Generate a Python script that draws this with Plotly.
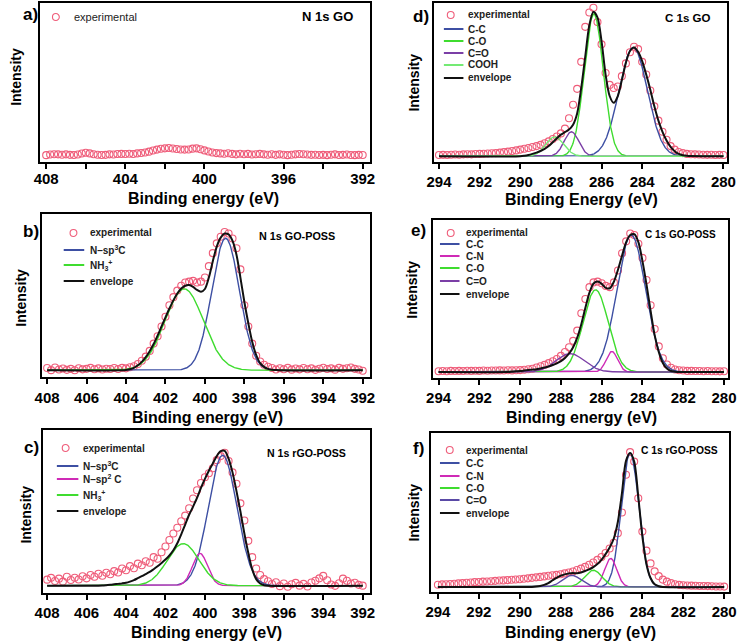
import numpy as np
import plotly.graph_objects as go

W, H = 749, 643

# energy grids of the measured spectra (0.2 eV steps)
be_n = np.round(np.linspace(408, 392, 81), 1)
be_c = np.round(np.linspace(294, 280, 71), 1)

# intensities are given in % of the frame height

# a) N 1s GO
a_exp = [4.3, 4.7, 4.9, 4.8, 4.6, 4.8, 4.5, 4.4, 4.7, 5.3,
         5.8, 5.4, 4.9, 4.6, 4.4, 4.5, 4.8, 4.7, 5.0, 5.1,
         5.0, 5.2, 5.0, 5.4, 5.7, 6.0, 6.5, 7.2, 7.8, 8.3,
         8.6, 8.8, 8.5, 8.2, 7.9, 7.8, 7.9, 8.4, 8.6, 8.0,
         7.3, 6.6, 6.0, 5.6, 5.4, 5.2, 5.5, 5.1, 4.8, 5.2,
         4.9, 5.1, 4.7, 4.9, 5.1, 4.8, 4.6, 4.9, 4.5, 4.8,
         4.6, 4.3, 4.6, 4.8, 5.0, 4.9, 4.7, 4.5, 4.6, 4.4,
         4.5, 4.3, 4.6, 4.8, 4.4, 4.5, 4.7, 4.4, 4.3, 4.5, 4.4]

# b) N 1s GO-POSS
b_exp = [5.5, 4.2, 5.8, 4.6, 5.2, 4.4, 5.0, 4.1, 5.4, 4.7,
         5.0, 5.6, 4.8, 5.3, 4.6, 5.1, 4.9, 5.5, 4.9, 5.6,
         5.3, 6.0, 6.6, 8.0, 10.0, 12.5, 16.0, 20.5, 25.0, 31.0,
         37.0, 44.0, 49.0, 53.0, 56.0, 58.0, 58.5, 59.0, 58.0, 58.5,
         61.0, 68.0, 76.0, 82.0, 86.0, 89.0, 88.0, 85.0, 79.0, 66.0,
         44.0, 31.0, 20.5, 13.0, 9.5, 7.5, 6.3, 5.5, 4.6, 5.4,
         4.8, 5.6, 4.5, 5.2, 4.7, 5.5, 4.8, 5.3, 4.4, 5.1,
         5.7, 4.9, 5.3, 4.5, 5.6, 5.0, 5.4, 5.8, 5.0, 4.6, 3.8]
b_env_be = [408, 404.2] + list(np.round(np.linspace(404.0, 396.4, 39), 1)) + [396.2, 392]
b_env = [4.1, 4.1,
         4.3, 4.7, 5.6, 7.2, 9.3, 12.2, 15.8, 20.2, 25.4, 31.0,
         36.6, 42.0, 47.0, 51.2, 54.3, 56.0, 56.4, 55.3, 53.4, 52.3,
         54.0, 61.0, 71.0, 80.0, 85.5, 88.0, 87.5, 83.5, 75.0, 61.0,
         46.0, 33.0, 21.5, 13.5, 8.5, 6.2, 5.0, 4.5, 4.3,
         4.1, 4.1]
b_names = ["N\u2013sp<sup>3</sup>C", "NH<sub>3</sub><sup>+</sup>"]
b_center = [398.95, 401.05]
b_height = [81.0, 50.0]
b_fwhm = [1.65, 2.3]
b_base = 4.1

# c) N 1s rGO-POSS
c_exp = [8.2, 9.3, 7.4, 8.8, 7.0, 10.0, 8.0, 9.4, 8.3, 10.3,
         9.0, 11.0, 10.0, 11.8, 10.6, 12.4, 11.5, 13.4, 12.6, 15.0,
         14.0, 16.5, 15.2, 18.0, 17.0, 19.5, 18.6, 22.0, 21.0, 25.0,
         28.5, 32.5, 36.5, 40.0, 44.0, 47.5, 52.0, 58.0, 63.0, 67.5,
         71.0, 73.5, 76.5, 81.5, 84.0, 86.0, 81.0, 74.0, 67.0, 55.0,
         44.5, 32.0, 22.0, 15.0, 11.0, 8.5, 7.2, 5.5, 6.6, 4.2,
         5.8, 3.8, 5.4, 6.2, 4.5, 5.6, 4.0, 6.4, 7.5, 9.0,
         10.5, 7.8, 5.2, 4.4, 6.0, 8.8, 7.5, 5.8, 6.3, 5.0, 4.5]
c_env_be = [408, 405.4] + list(np.round(np.linspace(405.2, 396.8, 43), 1)) + [392]
c_env = [4.5, 4.5,
         4.6, 4.8, 5.0, 5.3, 5.6, 5.9, 6.3, 7.0, 7.9, 9.1,
         10.3, 11.6, 12.9, 14.6, 16.4, 18.4, 20.5, 23.0, 26.2, 30.5,
         36.0, 42.0, 48.0, 53.0, 58.3, 64.5, 70.0, 75.0, 79.5, 84.0,
         87.0, 87.2, 82.5, 74.0, 62.5, 50.0, 36.5, 24.5, 14.4, 8.5,
         5.8, 4.8, 4.5,
         4.5]
c_names = ["N\u2013sp<sup>3</sup>C", "N\u2013sp<sup>2</sup> C", "NH<sub>3</sub><sup>+</sup>"]
c_center = [399.1, 400.25, 401.1]
c_height = [80.0, 19.8, 25.8]
c_fwhm = [1.7, 0.9, 1.9]
c_base = 4.5

# d) C 1s GO
d_exp = [4.4, 4.5, 4.4, 4.6, 4.7, 4.6, 4.8, 4.9, 4.8, 5.0,
         5.1, 5.2, 5.3, 5.5, 5.6, 5.9, 6.2, 6.5, 6.9, 7.3,
         7.8, 8.3, 8.8, 9.4, 10.0, 10.8, 11.8, 13.0, 14.5, 16.0,
         18.0, 21.0, 27.5, 36.0, 46.0, 63.0, 85.0, 94.0, 97.0, 88.0,
         74.0, 56.0, 48.5, 46.5, 47.5, 54.0, 62.0, 69.0, 72.5, 71.0,
         63.0, 55.0, 45.0, 35.0, 26.0, 19.0, 14.0, 10.0, 7.8, 6.3,
         5.6, 5.1, 4.9, 4.8, 4.7, 4.6, 4.5, 4.6, 4.4, 4.5, 4.4]
d_env_be = [294] + list(np.round(np.linspace(290.0, 281.6, 43), 1)) + [280]
d_env = [3.6,
         3.6, 3.9, 4.4, 5.1, 5.9, 6.9, 8.2, 10.0, 12.4, 15.0,
         17.2, 18.8, 20.5, 23.5, 30.5, 46.5, 66.5, 86.0, 94.5, 91.0,
         76.0, 55.0, 41.5, 37.2, 41.5, 51.5, 62.5, 69.8, 72.0, 69.3,
         63.5, 55.0, 45.5, 35.0, 26.0, 19.0, 13.5, 9.5, 6.8, 5.1,
         4.3, 3.9, 3.7,
         3.6]
d_names = ["C-C", "C-O", "C=O", "COOH"]
d_center = [284.44, 286.38, 287.48, 288.3]
d_height = [68.4, 89.5, 15.4, 12.2]
d_fwhm = [1.65, 1.1, 0.85, 1.05]
d_base = 3.6

# e) C 1s GO-POSS
e_exp = [4.3, 4.4, 4.3, 4.5, 4.4, 4.5, 4.4, 4.6, 4.5, 4.6,
         4.5, 4.7, 4.6, 4.7, 4.7, 4.8, 4.7, 4.9, 4.8, 4.9,
         5.0, 5.2, 5.5, 5.9, 6.6, 7.4, 8.3, 9.4, 10.6, 12.0,
         14.0, 16.5, 19.5, 23.5, 30.0, 41.0, 50.0, 57.5, 60.5, 61.0,
         60.0, 58.3, 57.5, 60.5, 68.0, 79.0, 86.5, 91.5, 90.5, 85.0,
         76.0, 62.0, 46.0, 31.0, 20.0, 12.5, 8.5, 6.5, 5.4, 4.9,
         4.7, 4.5, 4.5, 4.4, 4.4, 4.3, 4.4, 4.3, 4.3, 4.2, 4.3]
e_env_be = [294] + list(np.round(np.linspace(290.6, 282.2, 43), 1)) + [280]
e_env = [3.8,
         3.8, 4.0, 4.2, 4.4, 4.7, 5.0, 5.3, 5.6, 6.0, 6.6,
         7.3, 8.2, 9.3, 10.7, 12.7, 15.5, 19.5, 25.5, 34.0, 44.5,
         54.0, 59.8, 61.0, 59.6, 57.0, 56.8, 61.0, 68.5, 77.5, 86.0,
         90.5, 91.0, 86.0, 74.0, 59.0, 42.5, 27.0, 16.5, 9.5, 6.0,
         4.4, 4.0, 3.8,
         3.8]
e_names = ["C-C", "C-N", "C-O", "C=O"]
e_center = [284.55, 285.5, 286.3, 287.55]
e_height = [86.7, 13.0, 52.0, 11.6]
e_fwhm = [1.65, 0.65, 1.45, 1.65]
e_base = 3.8

# f) C 1s rGO-POSS
f_exp = [4.6, 4.8, 4.9, 5.0, 5.2, 5.4, 5.6, 5.8, 6.0, 6.2,
         6.3, 6.5, 6.6, 6.8, 7.0, 7.2, 7.3, 7.5, 7.7, 7.9,
         8.0, 8.3, 8.6, 8.9, 9.2, 9.5, 9.8, 10.2, 10.5, 10.8,
         11.2, 11.7, 12.3, 12.9, 13.8, 14.7, 15.8, 17.1, 18.6, 20.2,
         22.0, 24.5, 27.4, 31.0, 37.0, 50.0, 73.7, 88.0, 82.0, 59.0,
         38.0, 26.0, 18.0, 13.0, 10.0, 7.8, 6.5, 5.6, 4.9, 4.5,
         4.2, 4.1, 4.0, 3.9, 3.8, 3.8, 3.7, 3.6, 3.5, 3.5, 3.4]
f_env_be = [294] + list(np.round(np.linspace(289.4, 283.0, 33), 1)) + [280]
f_env = [3.2,
         3.2, 3.4, 3.8, 4.5, 5.6, 7.3, 8.9, 10.2, 11.1, 11.7,
         11.9, 11.8, 12.3, 13.2, 14.2, 15.6, 17.6, 20.2, 23.8, 28.0,
         33.5, 44.0, 62.0, 82.5, 87.4, 82.0, 60.0, 35.0, 17.5, 8.8,
         4.8, 3.6, 3.2,
         3.2]
f_names = ["C-C", "C-N", "C-O", "C=O"]
f_center = [284.6, 285.55, 286.4, 287.45]
f_height = [84.2, 17.9, 10.5, 7.3]
f_fwhm = [1.0, 0.7, 1.0, 1.05]
f_base = 3.2

# ---------------------------------------------------------------- styling
EXP = "#ef5d7a"
BLUE = "#3d4fa3"
GREEN = "#3fdc2f"
MAGENTA = "#cf2ab6"
PURPLE = "#7b3fa6"
LGREEN = "#74ea74"
BLACK = "#111111"
FONT = "Liberation Sans"

panels = [
    dict(be=be_n, exp=a_exp, env=None, frame=(33, 3, 370, 162), xr=[408.3, 391.65], dtick=4, lab_off=-3,
         title="N 1s GO", title_pos=(355, 16), title_size=13, letter="a)", letter_pos=(23, 15),
         ylab_pos=(8, 77), xlab="Binding energy (eV)", xlab_pos=(200, 198),
         leg=dict(marker=(49, 17), line=None, text_x=65, rows=[17], size=11, bold=False)),
    dict(be=be_n, exp=b_exp, env=(b_env_be, b_env), frame=(35, 214, 370, 377), xr=[408.25, 391.65], dtick=2, lab_off=1,
         comps=(b_names, b_center, b_height, b_fwhm, b_base, [BLUE, GREEN]),
         title="N 1s GO-POSS", title_pos=(337, 236), title_size=10.8, letter="b)", letter_pos=(24, 231),
         ylab_pos=(13, 298), xlab="Binding energy (eV)", xlab_pos=(204, 417),
         leg=dict(marker=(67, 233), line=(57, 78), text_x=82, rows=[233, 250, 265, 281], size=10, bold=True)),
    dict(be=be_n, exp=c_exp, env=(c_env_be, c_env), frame=(36, 430, 370, 593), xr=[408.2, 391.65], dtick=2, lab_off=0,
         comps=(c_names, c_center, c_height, c_fwhm, c_base, [BLUE, MAGENTA, GREEN]),
         title="N 1s rGO-POSS", title_pos=(348, 453), title_size=10.6, letter="c)", letter_pos=(24, 447),
         ylab_pos=(18, 515), xlab="Binding energy (eV)", xlab_pos=(203, 632),
         leg=dict(marker=(59, 448), line=(50, 72), text_x=75, rows=[448, 466, 479, 495, 511], size=10, bold=True)),
    dict(be=be_c, exp=d_exp, env=(d_env_be, d_env), frame=(436, 3, 736, 162), xr=[294.24, 279.81], dtick=2, lab_off=0,
         comps=(d_names, d_center, d_height, d_fwhm, d_base, [BLUE, GREEN, PURPLE, LGREEN]),
         title="C 1s GO", title_pos=(720, 18), title_size=11.5, letter="d)", letter_pos=(423, 16),
         ylab_pos=(415, 83), xlab="Binding Energy (eV)", xlab_pos=(587, 199),
         leg=dict(marker=(453, 15), line=(446, 466), text_x=469, rows=[15, 29, 41, 53, 65, 78], size=10, bold=True)),
    dict(be=be_c, exp=e_exp, env=(e_env_be, e_env), frame=(435, 220, 737, 378), xr=[294.27, 279.79], dtick=2, lab_off=0,
         comps=(e_names, e_center, e_height, e_fwhm, e_base, [BLUE, MAGENTA, GREEN, PURPLE]),
         title="C 1s GO-POSS", title_pos=(727, 235), title_size=10, letter="e)", letter_pos=(420, 230),
         ylab_pos=(413, 290), xlab="Binding energy (eV)", xlab_pos=(587, 417),
         leg=dict(marker=(453, 233), line=(442, 462), text_x=467, rows=[233, 244, 256, 268, 281, 294], size=10, bold=True)),
    dict(be=be_c, exp=f_exp, env=(f_env_be, f_env), frame=(433, 433, 738, 592), xr=[294.33, 279.75], dtick=2, lab_off=0,
         comps=(f_names, f_center, f_height, f_fwhm, f_base, [BLUE, MAGENTA, GREEN, "#5a4aa6"]),
         title="C 1s rGO-POSS", title_pos=(729, 450), title_size=10.3, letter="f)", letter_pos=(420, 448),
         ylab_pos=(415, 513), xlab="Binding energy (eV)", xlab_pos=(586, 632),
         leg=dict(marker=(452, 450), line=(442, 462), text_x=467, rows=[450, 463, 476, 488, 500, 513], size=10, bold=True)),
]


def px(x):
    return x / W


def py(y):
    return 1 - y / H


def gauss(x, c, h, w):
    return h * np.exp(-4 * np.log(2) * (x - c) ** 2 / w ** 2)


fig = go.Figure()
shapes, annotations = [], []
layout = {}

for i, p in enumerate(panels, start=1):
    sx = "" if i == 1 else str(i)
    xa, ya = "x" + sx, "y" + sx

    # experimental points
    fig.add_trace(go.Scatter(x=p["be"], y=p["exp"], mode="markers", xaxis=xa, yaxis=ya,
                             marker=dict(symbol="circle-open", size=7, color=EXP, line=dict(width=1.1)),
                             showlegend=False, hoverinfo="skip"))
    leg_items = [("experimental", "marker", EXP)]

    # fitted components
    if "comps" in p:
        names, cen, hei, fw, base, cols = p["comps"]
        xf = np.linspace(p["be"][0], p["be"][-1], 801)
        for n, c, h, w, col in zip(names, cen, hei, fw, cols):
            fig.add_trace(go.Scatter(x=xf, y=base + gauss(xf, c, h, w), mode="lines", xaxis=xa, yaxis=ya,
                                     line=dict(color=col, width=1.4), showlegend=False, hoverinfo="skip"))
            leg_items.append((n, "line", col))

    # envelope
    if p["env"] is not None:
        fig.add_trace(go.Scatter(x=p["env"][0], y=p["env"][1], mode="lines", xaxis=xa, yaxis=ya,
                                 line=dict(color=BLACK, width=2, shape="spline", smoothing=0.8),
                                 showlegend=False, hoverinfo="skip"))
        leg_items.append(("envelope", "line", BLACK))

    x0, y0, x1, y1 = p["frame"]
    tickfont = dict(family=FONT, size=15, color="black", weight="bold")
    layout["xaxis" + sx] = dict(domain=[px(x0), px(x1)], range=p["xr"], anchor=ya,
                                showline=True, mirror=True, linecolor="black", linewidth=2,
                                ticks="outside", ticklen=5, tickwidth=1.5, tickcolor="black",
                                tick0=392 if p["dtick"] == 4 else 280, dtick=p["dtick"],
                                tickfont=tickfont, showgrid=False, zeroline=False,
                                ticklabelstandoff=p["lab_off"])
    if p["dtick"] == 4:
        layout["xaxis" + sx]["minor"] = dict(dtick=2, tick0=392, ticks="outside", ticklen=5,
                                             tickwidth=1.5, tickcolor="black", showgrid=False)
    layout["yaxis" + sx] = dict(domain=[py(y1), py(y0)], range=[0, 100], anchor=xa,
                                showline=True, mirror=True, linecolor="black", linewidth=2,
                                showticklabels=False, ticks="", showgrid=False, zeroline=False)

    # texts
    annotations.append(dict(text=p["title"], x=px(p["title_pos"][0]), y=py(p["title_pos"][1]),
                            xref="paper", yref="paper", xanchor="right", yanchor="middle", showarrow=False,
                            font=dict(family=FONT, size=p["title_size"], color="black", weight="bold")))
    annotations.append(dict(text=p["letter"], x=px(p["letter_pos"][0]), y=py(p["letter_pos"][1]),
                            xref="paper", yref="paper", xanchor="center", yanchor="middle", showarrow=False,
                            font=dict(family=FONT, size=17, color="black", weight="bold")))
    annotations.append(dict(text="Intensity", x=px(p["ylab_pos"][0]), y=py(p["ylab_pos"][1]),
                            xref="paper", yref="paper", xanchor="center", yanchor="middle", showarrow=False,
                            textangle=-90, font=dict(family=FONT, size=14, color="black", weight="bold")))
    annotations.append(dict(text=p["xlab"], x=px(p["xlab_pos"][0]), y=py(p["xlab_pos"][1]),
                            xref="paper", yref="paper", xanchor="center", yanchor="middle", showarrow=False,
                            font=dict(family=FONT, size=16, color="black", weight="bold")))

    # hand-made legend
    lg = p["leg"]
    for (name, kind, col), ry in zip(leg_items, lg["rows"]):
        if kind == "marker":
            mx = lg["marker"][0]
            shapes.append(dict(type="circle", xref="paper", yref="paper",
                               x0=px(mx - 3.5), x1=px(mx + 3.5), y0=py(ry + 3.5), y1=py(ry - 3.5),
                               line=dict(color=EXP, width=1.1)))
        else:
            lx0, lx1 = lg["line"]
            shapes.append(dict(type="line", xref="paper", yref="paper",
                               x0=px(lx0), x1=px(lx1), y0=py(ry), y1=py(ry),
                               line=dict(color=col, width=2)))
        annotations.append(dict(text=name, x=px(lg["text_x"]), y=py(ry), xref="paper", yref="paper",
                                xanchor="left", yanchor="middle", showarrow=False,
                                font=dict(family=FONT, size=lg["size"], color="#222222",
                                          weight="bold" if lg["bold"] else "normal")))

fig.update_layout(width=W, height=H, margin=dict(l=0, r=0, t=0, b=0),
                  paper_bgcolor="white", plot_bgcolor="white",
                  shapes=shapes, annotations=annotations, **layout)

# the page's default body margin would push the figure off the window
fig.write_html("out.html", config={"displayModeBar": False},
               post_script="document.body.style.margin='0';")
